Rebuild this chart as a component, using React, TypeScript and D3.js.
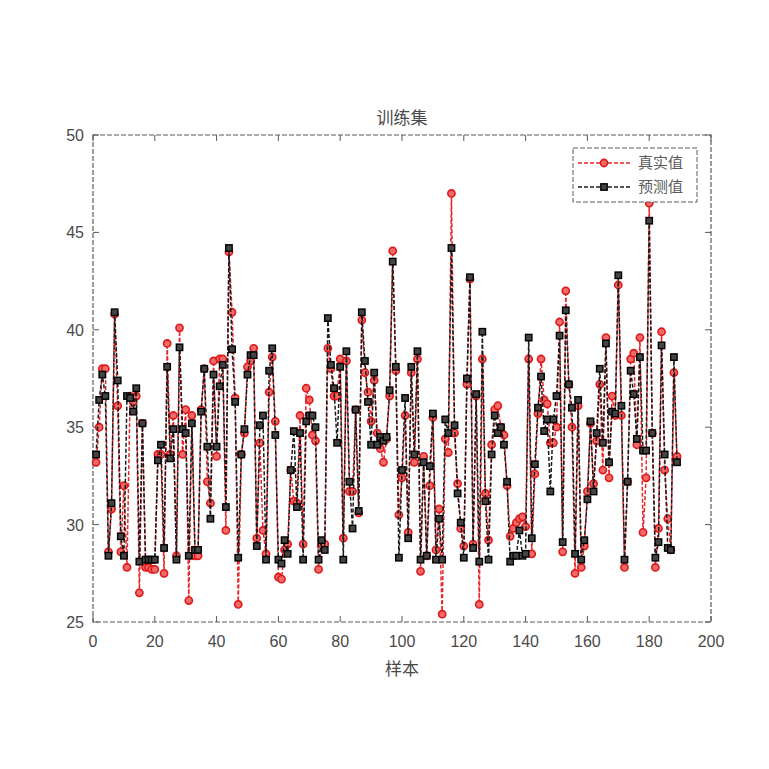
// App.tsx
import React, { useRef, useEffect } from 'react';
import * as d3 from 'd3';

// 真实值 (true values), sample 1..189
const realValues = [
    33.2, 35.0, 38.0, 38.0, 28.6, 30.8, 40.8, 36.1, 28.6, 32.0,
    27.8, 36.6, 36.3, 36.6, 26.5, 35.2, 27.8, 27.8, 27.7, 27.7,
    33.6, 33.6, 27.5, 39.3, 33.6, 35.6, 28.4, 40.1, 33.6, 35.9,
    26.1, 35.6, 28.4, 28.4, 35.9, 38.0, 32.2, 31.1, 38.4, 33.5,
    38.5, 38.5, 29.7, 44.0, 40.9, 36.5, 25.9, 33.6, 34.7, 38.1,
    38.4, 39.05, 29.3, 34.2, 29.7, 28.5, 36.8, 38.6, 35.3, 27.3,
    27.2, 28.7, 29.0, 32.8, 31.2, 31.1, 35.6, 29.0, 37.0, 36.4,
    34.6, 34.3, 27.7, 29.0, 29.0, 39.05, 38.0, 36.6, 36.6, 38.5,
    29.3, 38.4, 31.7, 31.7, 35.9, 30.6, 40.5, 37.8, 36.8, 35.3,
    37.4, 34.7, 33.9, 33.2, 34.4, 36.6, 44.05, 37.9, 30.5, 32.4,
    35.6, 29.6, 37.8, 33.2, 38.5, 27.6, 33.5, 28.4, 32.0, 35.5,
    28.7, 30.8, 25.4, 34.4, 33.7, 47.0, 34.7, 32.1, 29.8, 28.9,
    37.2, 42.6, 29.0, 36.6, 25.9, 38.5, 31.6, 29.2, 34.1, 35.9,
    36.1, 35.0, 34.6, 32.0, 29.4, 29.8, 30.1, 30.3, 30.4, 29.9,
    38.5, 28.5, 32.6, 35.7, 38.5, 36.4, 36.2, 34.2, 34.2, 35.0,
    40.4, 28.6, 42.0, 37.2, 35.0, 27.5, 36.1, 27.8, 28.9, 31.7,
    35.2, 32.1, 34.3, 37.2, 32.8, 39.6, 32.4, 36.6, 35.6, 42.3,
    35.6, 27.8, 32.2, 38.5, 38.8, 34.1, 39.6, 29.6, 32.4, 46.5,
    34.7, 27.8, 29.8, 39.9, 32.8, 30.3, 28.7, 37.8, 33.5,
];

// 预测值 (predicted values), sample 1..189
const predValues = [
    33.6, 36.4, 37.7, 36.6, 28.4, 31.1, 40.9, 37.4, 29.4, 28.4,
    36.6, 36.5, 35.8, 37.0, 28.1, 35.2, 28.2, 28.2, 28.2, 28.2,
    33.3, 34.1, 28.8, 38.1, 33.4, 34.9, 28.2, 39.1, 34.9, 34.7,
    28.4, 35.2, 28.7, 28.7, 35.8, 38.0, 34.0, 30.3, 37.7, 34.0,
    37.1, 38.2, 30.9, 44.2, 39.0, 36.3, 28.3, 33.6, 34.9, 37.7,
    38.7, 38.7, 28.9, 35.1, 35.6, 28.2, 37.9, 39.05, 34.6, 28.2,
    28.0, 29.2, 28.5, 32.8, 34.8, 30.9, 34.7, 28.2, 35.3, 35.6,
    35.6, 35.0, 28.2, 29.2, 28.7, 40.6, 38.2, 37.0, 34.2, 38.1,
    28.2, 38.9, 32.2, 29.8, 35.9, 30.7, 40.9, 38.4, 36.3, 34.1,
    37.8, 34.1, 34.5, 34.3, 34.5, 36.9, 43.5, 38.1, 28.3, 32.8,
    36.5, 29.3, 38.1, 33.6, 38.9, 28.2, 33.2, 28.4, 33.0, 35.7,
    28.2, 30.3, 28.2, 35.4, 34.7, 44.2, 35.1, 31.6, 30.1, 28.3,
    37.5, 42.7, 28.8, 36.7, 28.1, 39.9, 31.2, 28.2, 33.6, 35.6,
    34.7, 35.0, 34.1, 32.2, 28.1, 28.4, 28.4, 29.7, 28.4, 28.5,
    39.6, 29.3, 33.1, 36.0, 37.6, 34.8, 35.4, 31.7, 35.4, 36.6,
    39.7, 29.1, 41.0, 37.2, 36.0, 28.5, 36.4, 28.2, 29.2, 31.3,
    35.3, 31.7, 34.7, 38.0, 34.2, 39.3, 33.2, 35.8, 35.7, 42.8,
    36.1, 28.2, 32.2, 37.9, 36.7, 34.4, 38.6, 33.8, 33.8, 45.6,
    34.7, 28.3, 29.1, 39.2, 33.6, 28.8, 28.7, 38.6, 33.2,
];

const xTicks = [0, 20, 40, 60, 80, 100, 120, 140, 160, 180, 200];
const yTicks = [25, 30, 35, 40, 45, 50];

const legendLabels = ['真实值', '预测值'];

const App: React.FC = () => {
    const svgRef = useRef<SVGSVGElement | null>(null);

    useEffect(() => {
        if (!svgRef.current) return;
        const svg = d3.select(svgRef.current);
        svg.selectAll('*').remove();

        const width = 769;
        const height = 769;
        const left = 93;
        const right = 711;
        const top = 135;
        const bottom = 622;

        const axisColor = '#5a5a5a';
        const textColor = '#4a4a4a';
        const cjkFont = '"Noto Sans CJK SC", sans-serif';
        const numFont = '"Liberation Sans", Arial, sans-serif';

        svg.append('rect')
            .attr('width', width)
            .attr('height', height)
            .attr('fill', '#ffffff');

        const x = d3.scaleLinear().domain([0, 200]).range([left, right]);
        const y = d3.scaleLinear().domain([25, 50]).range([bottom, top]);

        const real = realValues.map((v, i) => ({ i: i + 1, v }));
        const pred = predValues.map((v, i) => ({ i: i + 1, v }));

        // axes box (dashed, as in the picture)
        svg.append('rect')
            .attr('x', left)
            .attr('y', top)
            .attr('width', right - left)
            .attr('height', bottom - top)
            .attr('fill', 'none')
            .attr('stroke', axisColor)
            .attr('stroke-width', 1.2)
            .attr('stroke-dasharray', '5,2');

        // ticks on all four sides, pointing in
        const tickLen = 6;
        const tg = svg.append('g').attr('stroke', axisColor).attr('stroke-width', 1);
        xTicks.forEach((t) => {
            tg.append('line')
                .attr('x1', x(t)).attr('x2', x(t))
                .attr('y1', bottom).attr('y2', bottom - tickLen);
            tg.append('line')
                .attr('x1', x(t)).attr('x2', x(t))
                .attr('y1', top).attr('y2', top + tickLen);
        });
        yTicks.forEach((t) => {
            tg.append('line')
                .attr('x1', left).attr('x2', left + tickLen)
                .attr('y1', y(t)).attr('y2', y(t));
            tg.append('line')
                .attr('x1', right).attr('x2', right - tickLen)
                .attr('y1', y(t)).attr('y2', y(t));
        });

        // tick labels
        svg.append('g')
            .selectAll('text')
            .data(xTicks)
            .enter()
            .append('text')
            .attr('x', (d) => x(d))
            .attr('y', bottom + 25)
            .attr('text-anchor', 'middle')
            .attr('font-family', numFont)
            .attr('font-size', 16)
            .attr('fill', textColor)
            .text((d) => d);

        svg.append('g')
            .selectAll('text')
            .data(yTicks)
            .enter()
            .append('text')
            .attr('x', left - 9)
            .attr('y', (d) => y(d) + 6)
            .attr('text-anchor', 'end')
            .attr('font-family', numFont)
            .attr('font-size', 16)
            .attr('fill', textColor)
            .text((d) => d);

        // title and x label
        svg.append('text')
            .attr('x', (left + right) / 2)
            .attr('y', 124)
            .attr('text-anchor', 'middle')
            .attr('font-family', cjkFont)
            .attr('font-size', 17)
            .attr('fill', textColor)
            .text('训练集');

        svg.append('text')
            .attr('x', (left + right) / 2)
            .attr('y', 675)
            .attr('text-anchor', 'middle')
            .attr('font-family', cjkFont)
            .attr('font-size', 17)
            .attr('fill', textColor)
            .text('样本');

        const line = d3
            .line<{ i: number; v: number }>()
            .x((d) => x(d.i))
            .y((d) => y(d.v));

        const plot = svg.append('g');

        // true values: red dashed line, circle markers
        plot.append('path')
            .datum(real)
            .attr('d', line)
            .attr('fill', 'none')
            .attr('stroke', '#e8262a')
            .attr('stroke-width', 1.5)
            .attr('stroke-dasharray', '4,2');

        plot.append('g')
            .selectAll('circle')
            .data(real)
            .enter()
            .append('circle')
            .attr('cx', (d) => x(d.i))
            .attr('cy', (d) => y(d.v))
            .attr('r', 3.6)
            .attr('fill', '#f06a6a')
            .attr('stroke', '#e01818')
            .attr('stroke-width', 1.6);

        // predicted values: black dashed line, square markers
        plot.append('path')
            .datum(pred)
            .attr('d', line)
            .attr('fill', 'none')
            .attr('stroke', '#1a1a1a')
            .attr('stroke-width', 1.5)
            .attr('stroke-dasharray', '4,2');

        plot.append('g')
            .selectAll('rect')
            .data(pred)
            .enter()
            .append('rect')
            .attr('x', (d) => x(d.i) - 3.2)
            .attr('y', (d) => y(d.v) - 3.2)
            .attr('width', 6.4)
            .attr('height', 6.4)
            .attr('fill', '#444444')
            .attr('stroke', '#000000')
            .attr('stroke-width', 1.4);

        // legend
        const lg = svg.append('g');
        lg.append('rect')
            .attr('x', 573)
            .attr('y', 148)
            .attr('width', 124)
            .attr('height', 54)
            .attr('fill', '#ffffff')
            .attr('stroke', axisColor)
            .attr('stroke-width', 1)
            .attr('stroke-dasharray', '5,2');

        const rows = [
            { label: legendLabels[0], color: '#e8262a', y: 163, shape: 'circle' },
            { label: legendLabels[1], color: '#1a1a1a', y: 187, shape: 'square' },
        ];
        rows.forEach((r) => {
            lg.append('line')
                .attr('x1', 578)
                .attr('x2', 632)
                .attr('y1', r.y)
                .attr('y2', r.y)
                .attr('stroke', r.color)
                .attr('stroke-width', 1.5)
                .attr('stroke-dasharray', '4,2');
            if (r.shape === 'circle') {
                lg.append('circle')
                    .attr('cx', 604)
                    .attr('cy', r.y)
                    .attr('r', 3.6)
                    .attr('fill', '#f06a6a')
                    .attr('stroke', '#e01818')
                    .attr('stroke-width', 1.6);
            } else {
                lg.append('rect')
                    .attr('x', 600.8)
                    .attr('y', r.y - 3.2)
                    .attr('width', 6.4)
                    .attr('height', 6.4)
                    .attr('fill', '#444444')
                    .attr('stroke', '#000000')
                    .attr('stroke-width', 1.4);
            }
            lg.append('text')
                .attr('x', 638)
                .attr('y', r.y + 5)
                .attr('font-family', cjkFont)
                .attr('font-size', 15)
                .attr('fill', '#5a5a5a')
                .text(r.label);
        });
    }, []);

    return (
        <div style={{ position: 'absolute', left: 0, top: 0, width: 769, height: 769 }}>
            <svg ref={svgRef} width={769} height={769}></svg>
        </div>
    );
};

export default App;
